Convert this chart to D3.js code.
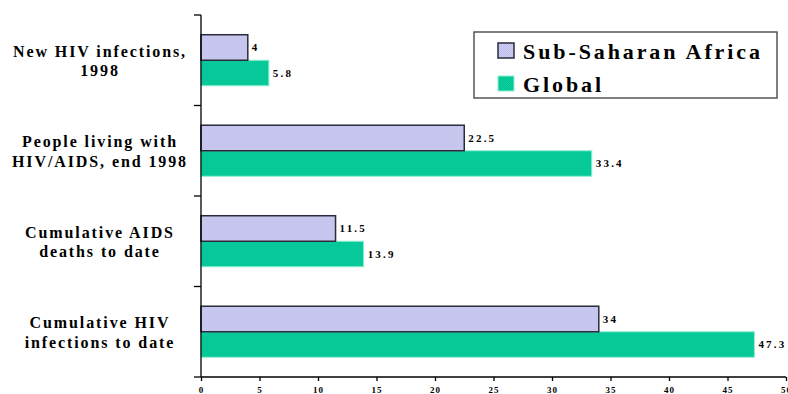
<!DOCTYPE html>
<html>
<head>
<meta charset="utf-8">
<script src="https://cdn.jsdelivr.net/npm/d3@7"></script>
<style>
  html, body { margin: 0; padding: 0; background: #fff; }
  svg { display: block; }
  text { font-family: "Liberation Serif", "Times New Roman", serif; font-weight: bold; fill: #000; }
</style>
</head>
<body>
<svg id="chart" width="788" height="394"></svg>
<script>
// Categories, top to bottom; each label is split over two lines
const categories = ["new", "living", "deaths", "cumulative"];
const categoryLines = [
  ["New HIV infections,", "1998"],
  ["People living with", "HIV/AIDS, end 1998"],
  ["Cumulative AIDS", "deaths to date"],
  ["Cumulative HIV", "infections to date"]
];
// Millions of people
const seriesNames = ["Sub-Saharan Africa", "Global"];
const subSaharanAfrica = [4, 22.5, 11.5, 34];
const globalValues = [5.8, 33.4, 13.9, 47.3];
const xTicks = [0, 5, 10, 15, 20, 25, 30, 35, 40, 45, 50];

const svg = d3.select("#chart");
const defs = svg.append("defs");

// Fine dithered fills for the two series
function dither(id, base, dot) {
  const p = defs.append("pattern").attr("id", id)
    .attr("patternUnits", "userSpaceOnUse").attr("width", 2).attr("height", 2);
  p.append("rect").attr("width", 2).attr("height", 2).attr("fill", base);
  p.append("rect").attr("width", 1).attr("height", 1).attr("fill", dot);
  p.append("rect").attr("x", 1).attr("y", 1).attr("width", 1).attr("height", 1).attr("fill", dot);
}
dither("fillSSA", "#d0d0f4", "#bcbce8");
dither("fillGlobal", "#0ccf9e", "#00c293");

const x = d3.scaleLinear().domain([0, 50]).range([201, 786]);
const y = d3.scaleBand().domain(categories).range([15, 377]).paddingInner(0.436).paddingOuter(0.218);
const ySeries = d3.scaleBand().domain(seriesNames).range([0, y.bandwidth()]);

const rows = categories.map((c, i) => ({
  cat: c,
  values: [
    { name: seriesNames[0], v: subSaharanAfrica[i] },
    { name: seriesNames[1], v: globalValues[i] }
  ]
}));

// Bars
const groups = svg.append("g").selectAll("g").data(rows).join("g")
  .attr("transform", d => `translate(0,${y(d.cat)})`);

groups.each(function (d) {
  const g = d3.select(this);
  const gv = d.values[1];
  // Global bar (light edge)
  g.append("rect")
    .attr("x", x(0)).attr("y", ySeries(gv.name))
    .attr("width", x(gv.v) - x(0)).attr("height", ySeries.bandwidth())
    .attr("fill", "url(#fillGlobal)")
    .attr("stroke", "#8ff0d0").attr("stroke-width", 1);
  const sv = d.values[0];
  g.append("rect")
    .attr("x", x(0)).attr("y", ySeries(sv.name))
    .attr("width", x(sv.v) - x(0)).attr("height", ySeries.bandwidth())
    .attr("fill", "url(#fillSSA)")
    .attr("stroke", "#2a2a3a").attr("stroke-width", 1.5);

  d.values.forEach(s => {
    g.append("text")
      .attr("x", x(s.v) + 4)
      .attr("y", ySeries(s.name) + ySeries.bandwidth() / 2)
      .attr("dy", "0.35em")
      .attr("font-size", 11)
      .attr("letter-spacing", 2.2)
      .text(s.v);
  });
});

// Category labels
const labelG = svg.append("g");
categories.forEach((c, i) => {
  const cy = y(c) + y.bandwidth() / 2;
  const t = labelG.append("text")
    .attr("x", 100).attr("text-anchor", "middle")
    .attr("font-size", 16).attr("letter-spacing", 1.9);
  categoryLines[i].forEach((line, j) => {
    t.append("tspan").attr("x", 100)
      .attr("y", cy - 3.3 + j * 19.3)
      .text(line);
  });
});

// Value axis
const xAxis = d3.axisBottom(x).tickValues(xTicks).tickSize(4).tickPadding(6).tickFormat(d3.format("d"));
const xg = svg.append("g").attr("transform", "translate(0,377)").call(xAxis);
xg.select(".domain").attr("stroke", "#000").attr("stroke-width", 1.3).attr("d", `M${x(0)},0H${x(50)}`);
xg.selectAll(".tick line").attr("stroke", "#000").attr("stroke-width", 1.3);
xg.selectAll(".tick text").attr("font-family", "Liberation Serif, serif").attr("font-weight", "bold")
  .attr("font-size", 9).attr("letter-spacing", 1).attr("fill", "#000");

// Category axis: vertical line with ticks between groups
const yg = svg.append("g");
yg.append("line").attr("x1", x(0)).attr("x2", x(0)).attr("y1", 15).attr("y2", 377)
  .attr("stroke", "#000").attr("stroke-width", 1.3);
const boundaryY = d3.range(categories.length + 1).map(i => 15 + i * y.step());
yg.selectAll("line.t").data(boundaryY).join("line").attr("class", "t")
  .attr("x1", x(0) - 7).attr("x2", x(0)).attr("y1", d => d).attr("y2", d => d)
  .attr("stroke", "#000").attr("stroke-width", 1.3);

// Legend
const legend = svg.append("g");
legend.append("rect").attr("x", 474).attr("y", 32).attr("width", 303).attr("height", 66)
  .attr("fill", "#fff").attr("stroke", "#555").attr("stroke-width", 1.5);
const legendFills = [
  { fill: "url(#fillSSA)", stroke: "#2a2a3a", sw: 1.5 },
  { fill: "url(#fillGlobal)", stroke: "#8ff0d0", sw: 1 }
];
seriesNames.forEach((name, i) => {
  const ly = 43 + i * 33;
  legend.append("rect").attr("x", 498).attr("y", ly).attr("width", 16).attr("height", 15)
    .attr("fill", legendFills[i].fill).attr("stroke", legendFills[i].stroke).attr("stroke-width", legendFills[i].sw);
  legend.append("text").attr("x", 523).attr("y", ly + 15.5)
    .attr("font-size", 22).attr("letter-spacing", 2.9).text(name);
});
</script>
</body>
</html>
